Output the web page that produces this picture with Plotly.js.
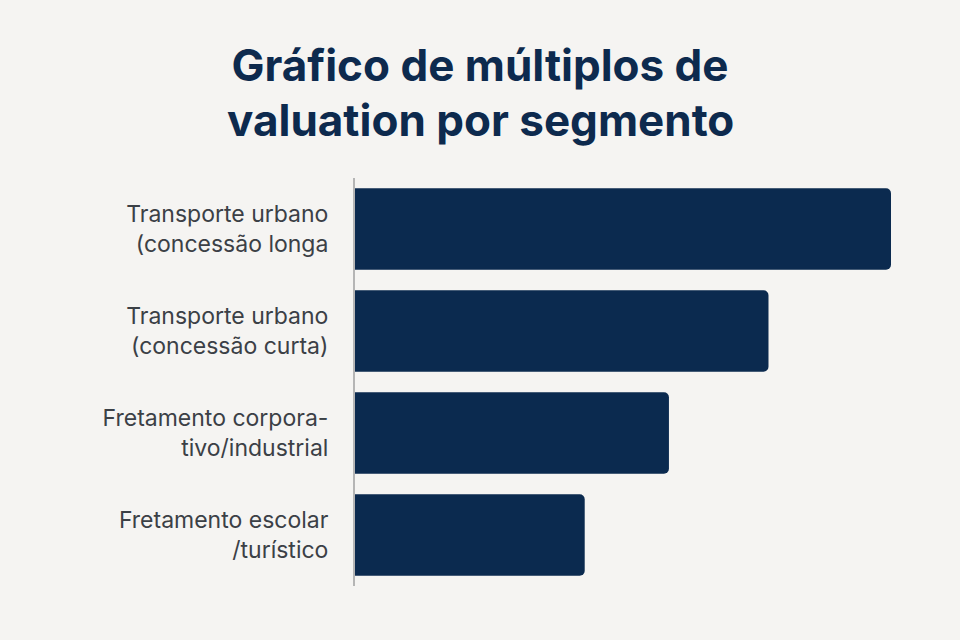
<!DOCTYPE html>
<html>
<head>
<meta charset="utf-8">
<script src="https://cdn.plot.ly/plotly-3.0.1.min.js"></script>
<style>
html,body{margin:0;padding:0;background:#f5f4f2;}
#chart{width:960px;height:640px;}
</style>
</head>
<body>
<div id="chart"></div>
<script>
const categories = [
  "Transporte urbano<br>(concessão longa",
  "Transporte urbano<br>(concessão curta)",
  "Fretamento corpora-<br>tivo/industrial",
  "Fretamento escolar<br>/turístico"
];
const values = [7.0, 5.4, 4.1, 3.0];
const titleLine1 = "Gráfico de múltiplos de";
const titleLine2 = "valuation por segmento";

const titleFont = {family: 'Inter, Roboto, sans-serif', size: 44, color: '#0d2a4e', weight: 700};

const trace = {
  type: 'bar',
  orientation: 'h',
  y: categories,
  x: values,
  width: 0.8,
  marker: {color: '#0b2a4f', line: {width: 0}},
  hoverinfo: 'skip'
};

const layout = {
  width: 960,
  height: 640,
  paper_bgcolor: '#f5f4f2',
  plot_bgcolor: '#f5f4f2',
  margin: {l: 355, r: 69, t: 178, b: 54},
  barcornerradius: 5,
  showlegend: false,
  title: {
    text: titleLine1,
    xref: 'container',
    x: 0.5,
    xanchor: 'center',
    yref: 'container',
    y: 1 - 66 / 640,
    yanchor: 'middle',
    font: titleFont
  },
  annotations: [{
    text: titleLine2,
    xref: 'paper',
    yref: 'paper',
    x: (480 - 355) / 536,
    y: 1 + (178 - 120) / 408,
    xanchor: 'center',
    yanchor: 'middle',
    showarrow: false,
    font: titleFont
  }],
  xaxis: {
    range: [0, 7.0],
    visible: false,
    showgrid: false,
    zeroline: false,
    fixedrange: true
  },
  yaxis: {
    autorange: 'reversed',
    showgrid: false,
    zeroline: false,
    showline: true,
    linecolor: '#b5b5b5',
    linewidth: 2,
    ticks: '',
    ticklabelstandoff: 20,
    tickfont: {family: 'Inter, Roboto, sans-serif', size: 23, color: '#3b4046'},
    fixedrange: true
  }
};

Plotly.newPlot('chart', [trace], layout, {displayModeBar: false, staticPlot: true});
</script>
</body>
</html>
